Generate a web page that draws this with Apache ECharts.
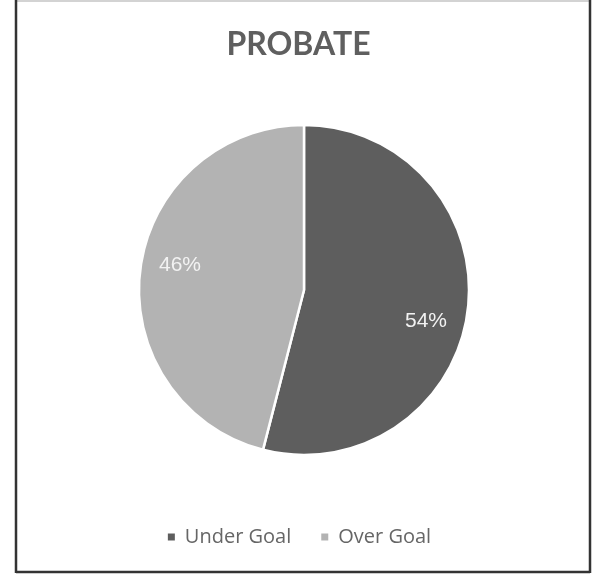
<!DOCTYPE html>
<html>
<head>
<meta charset="utf-8">
<script src="https://cdn.jsdelivr.net/npm/echarts@6/dist/echarts.min.js"></script>
<style>
html,body{margin:0;padding:0;background:#fff;}
#chart{width:597px;height:579px;}
</style>
</head>
<body>
<div id="chart"></div>
<script>
var titleText = 'PROBATE';
var categories = ['Under Goal', 'Over Goal'];
var values = [54, 46];
var colors = ['#5e5e5e', '#b3b3b3'];

// small best-fit style nudges for the percentage labels
var labelNudge = [{ dx: -6, dy: 15 }, { dx: 4, dy: -9 }];

var data = categories.map(function (c, i) {
  return { name: c, value: values[i], itemStyle: { color: colors[i] } };
});

var chart = echarts.init(document.getElementById('chart'), null, { renderer: 'canvas' });
chart.setOption({
  backgroundColor: '#ffffff',
  animation: false,
  title: {
    text: titleText,
    left: 'center',
    top: 24,
    textStyle: { fontFamily: 'Lato', fontWeight: 'bold', fontSize: 32, color: '#5f5f5f' }
  },
  legend: {
    data: categories,
    left: 'center',
    top: 522,
    icon: 'rect',
    itemWidth: 9,
    itemHeight: 9,
    itemGap: 28,
    textStyle: { fontFamily: 'Open Sans', fontSize: 20, color: '#666666', padding: [0, 0, 0, 4] }
  },
  graphic: [
    { type: 'line', shape: { x1: 16, y1: 1, x2: 590, y2: 1 }, style: { stroke: '#c4c4c4', lineWidth: 1.5 }, silent: true },
    { type: 'line', shape: { x1: 16, y1: 0, x2: 16, y2: 573 }, style: { stroke: '#333333', lineWidth: 2.5 }, silent: true },
    { type: 'line', shape: { x1: 590, y1: 0, x2: 590, y2: 573 }, style: { stroke: '#333333', lineWidth: 2.5 }, silent: true },
    { type: 'line', shape: { x1: 16, y1: 572, x2: 590, y2: 572 }, style: { stroke: '#333333', lineWidth: 2.5 }, silent: true }
  ],
  series: [
    {
      type: 'pie',
      center: [304, 290],
      radius: [0, 165],
      startAngle: 90,
      clockwise: true,
      label: { show: false },
      labelLine: { show: false },
      itemStyle: { borderColor: '#ffffff', borderWidth: 2.5 },
      emphasis: { disabled: true },
      data: data
    },
    {
      type: 'pie',
      center: [304, 290],
      radius: [100, 152],
      startAngle: 90,
      clockwise: true,
      silent: true,
      itemStyle: { color: 'transparent', borderWidth: 0 },
      label: {
        show: true,
        position: 'inside',
        formatter: '{d}%',
        fontFamily: 'Liberation Sans',
        fontSize: 21,
        color: '#f2f2f2'
      },
      labelLayout: function (params) {
        var n = labelNudge[params.dataIndex] || { dx: 0, dy: 0 };
        return { dx: n.dx, dy: n.dy };
      },
      labelLine: { show: false },
      emphasis: { disabled: true },
      data: categories.map(function (c, i) { return { name: c, value: values[i] }; })
    }
  ]
});
</script>
</body>
</html>
